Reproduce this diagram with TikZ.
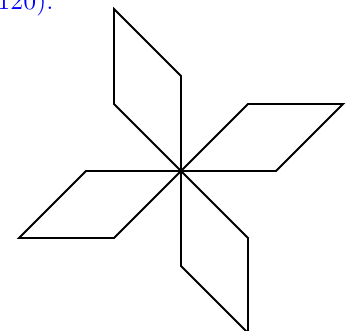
\documentclass[tikz,border=0pt]{standalone}
\usetikzlibrary{calc}
\begin{document}
\begin{tikzpicture}[x=0.4167pt,y=-0.4167pt,
  petal/.style={draw=black,line width=0.8pt,line join=miter},
  captext/.style={text=blue,inner sep=0pt,font=\fontsize{11}{13}\selectfont}]
\useasboundingbox (0,0) rectangle (346,331);
\clip (0,0) rectangle (346,331);
\coordinate (C) at (181,171);
% top petal
\draw[petal] (C) -- ++(0,-95) -- ++(-67,-67) -- ++(0,95) -- cycle;
% right petal
\draw[petal] (C) -- ++(95,0) -- ++(67,-67) -- ++(-95,0) -- cycle;
% bottom petal
\draw[petal] (C) -- ++(0,95) -- ++(67,67) -- ++(0,-95) -- cycle;
% left petal
\draw[petal] (C) -- ++(-95,0) -- ++(-67,67) -- ++(95,0) -- cycle;
\node[captext,anchor=base west] (cap) at (-3,10) {120).};
\end{tikzpicture}
\end{document}
